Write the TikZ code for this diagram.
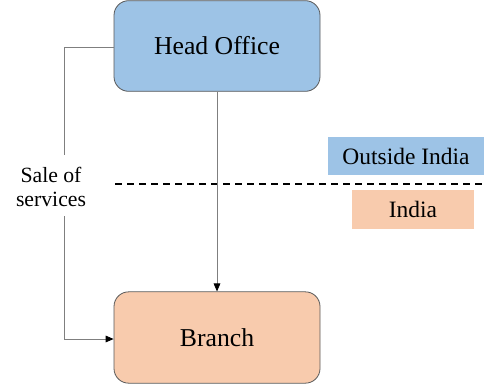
\documentclass[tikz,border=0pt]{standalone}
\usepackage{fontspec}
\setmainfont{Liberation Serif}
\usetikzlibrary{arrows.meta}
\definecolor{officeblue}{HTML}{9DC3E6}
\definecolor{branchpeach}{HTML}{F8CBAD}
\definecolor{edgegray}{HTML}{595959}
\definecolor{linkgray}{HTML}{7F7F7F}
\tikzset{
  unitbox/.style={draw=edgegray, line width=0.6pt, rounded corners=11pt,
    minimum width=154.5pt, minimum height=68pt, inner sep=0pt,
    font=\fontsize{19.3}{22}\selectfont},
  zonetag/.style={draw=none, inner sep=0pt, font=\fontsize{17.6}{20}\selectfont},
  link/.style={draw=linkgray, line width=0.6pt,
    -{Triangle[length=6pt,width=5pt,fill=black,color=black]}},
  plainlink/.style={draw=linkgray, line width=0.6pt},
  border/.style={draw=black, line width=1.4pt, dash pattern=on 5pt off 4pt},
  note/.style={align=center, inner sep=0pt, font=\fontsize{16.3}{17.5}\selectfont}
}
\begin{document}
\begin{tikzpicture}[x=0.75pt, y=-0.75pt]
  \useasboundingbox (0,0) rectangle (484,385);

  % the two offices
  \node[unitbox, fill=officeblue] (office) at (217,46) {Head Office};
  \node[unitbox, fill=branchpeach, minimum height=68.5pt] (branch) at (217,337.5) {Branch};

  % territory labels on either side of the border
  \node[zonetag, fill=officeblue, minimum width=117pt, minimum height=28.5pt] (outside) at (406,156) {Outside India};
  \node[zonetag, fill=branchpeach, minimum width=91.5pt, minimum height=29pt] (india) at (413,209.5) {India};

  % national border
  \coordinate (borderL) at (115,184);
  \coordinate (borderR) at (484,184);
  \draw[border] (borderL) -- (borderR);

  % direct link between head office and branch
  \draw[link] (office.south) -- (branch.north);

  % sale of services route on the left
  \node[note] (sale) at (51,187) {Sale of\\services};
  \coordinate (bendTop) at (64,47);
  \draw[plainlink] (office.west |- bendTop) -- (bendTop) -- (64,155);
  \coordinate (bendLow) at (64,339);
  \draw[link] (64,216) -- (bendLow) -- (branch.west |- bendLow);
\end{tikzpicture}
\end{document}
